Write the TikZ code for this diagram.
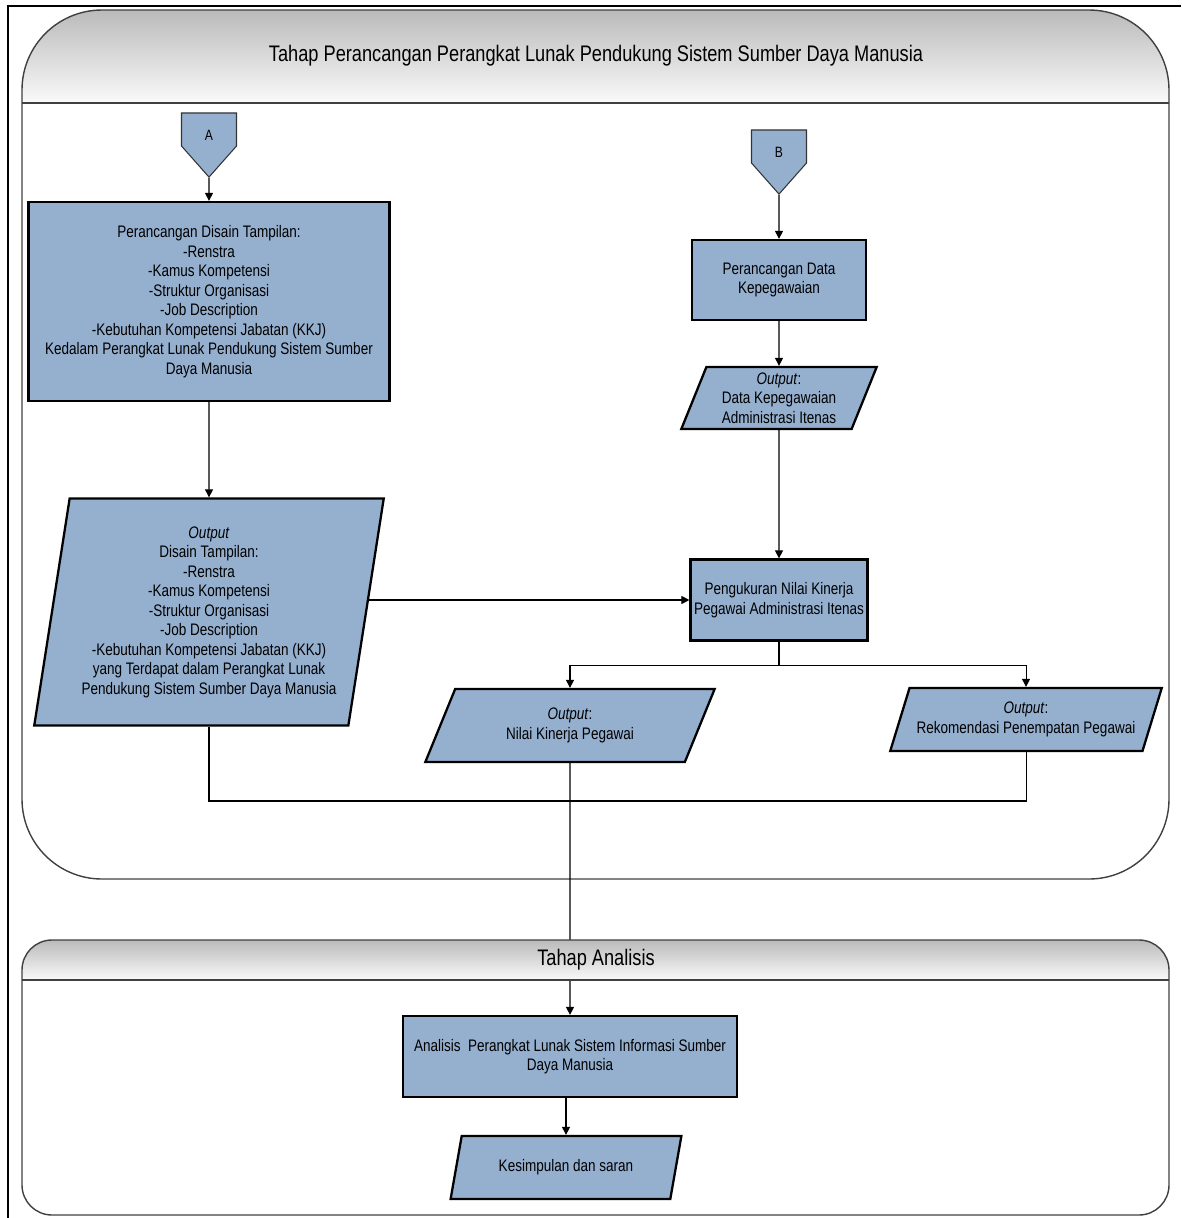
\documentclass[tikz,border=0pt]{standalone}
\usepackage{fontspec}
\setmainfont{Liberation Sans}[FakeStretch=0.81]
\usetikzlibrary{arrows.meta,shapes.geometric,shapes.symbols}
\definecolor{boxblue}{RGB}{149,176,207}
\tikzset{
  proc/.style={draw=black,line width=1.3pt,fill=boxblue,align=center,
               font=\fontsize{9.5}{11.1}\selectfont,inner sep=2pt},
  io/.style={trapezium,trapezium left angle=#1,trapezium right angle={180-#1},
             trapezium stretches=true,draw=black,line width=1.3pt,fill=boxblue,
             align=center,font=\fontsize{9.5}{11.1}\selectfont,inner sep=0pt},
  opc/.style={signal,signal to=south,signal pointer angle=83,draw=black!80,
              line width=.6pt,fill=boxblue,minimum width=1.1cm,inner sep=2pt,
              text height=13.4pt,text depth=1.4pt,
              font=\fontsize{8.5}{10}\selectfont},
  ar/.style ={-{Triangle[length=1.6mm,width=1.6mm]},line width=.6pt},
  ln/.style ={line width=.6pt},
  pool/.style={draw=black!75,line width=.8pt},
  ttl/.style={font=\fontsize{12.8}{14}\selectfont},
}
\begin{document}
\begin{tikzpicture}[x=0.02cm,y=-0.02cm]
  \useasboundingbox (0,0) rectangle (1181,1218);
  \draw[line width=1.4pt] (8,1218) -- (8,6) -- (1181,6);
  % pool 1
  \begin{scope}
    \clip[rounded corners=1.6cm] (22,10) rectangle (1169,879);
    \fill[top color=black!27,bottom color=black!2] (22,10) rectangle (1169,103);
  \end{scope}
  \draw[pool,rounded corners=1.6cm] (22,10) rectangle (1169,879);
  \draw[pool] (22,103) -- (1169,103);
  \node[ttl] (ttlA) at (596,56) {Tahap Perancangan Perangkat Lunak Pendukung Sistem Sumber Daya Manusia};

  \node[opc] (opA) at (209,129.5) {A};
  \node[proc,minimum width=7.22cm,minimum height=3.98cm] (box1) at (209,301.5)
    {Perancangan Disain Tampilan:\\-Renstra\\-Kamus Kompetensi\\-Struktur Organisasi\\
     -Job Description\\-Kebutuhan Kompetensi Jabatan (KKJ)\\
     Kedalam Perangkat Lunak Pendukung Sistem Sumber\\Daya Manusia};
  \node[io=79.3,minimum width=7cm,minimum height=4.54cm] (out1) at (209,612)
    {\textit{Output}\\Disain Tampilan:\\-Renstra\\-Kamus Kompetensi\\-Struktur Organisasi\\
     -Job Description\\-Kebutuhan Kompetensi Jabatan (KKJ)\\
     yang Terdapat dalam Perangkat Lunak\\Pendukung Sistem Sumber Daya Manusia};
  \node[opc] (opB) at (779,146.5) {B};
  \node[proc,minimum width=3.48cm,minimum height=1.6cm] (box2) at (779,280)
    {Perancangan Data\\Kepegawaian};
  \node[io=68.8,minimum width=3.92cm,minimum height=1.24cm] (out2) at (779,398)
    {\textit{Output}:\\Data Kepegawaian\\Administrasi Itenas};
  \node[proc,minimum width=3.52cm,minimum height=1.62cm] (box3) at (779,600)
    {Pengukuran Nilai Kinerja\\Pegawai Administrasi Itenas};
  \node[io=64.4,minimum width=5.8cm,minimum height=1.46cm] (out3) at (570,725.5)
    {\textit{Output}:\\Nilai Kinerja Pegawai};
  \node[io=62.4,minimum width=5.44cm,minimum height=1.26cm] (out4) at (1026,719.5)
    {\textit{Output}:\\Rekomendasi Penempatan Pegawai};
  \node[proc,minimum width=6.68cm,minimum height=1.62cm] (box4) at (570,1056.5)
    {Analisis\ \ Perangkat Lunak Sistem Informasi Sumber\\Daya Manusia};
  \node[io=65.3,minimum width=4.62cm,minimum height=1.26cm] (out5) at (566,1167.5)
    {Kesimpulan dan saran};

  \foreach \a/\b in {opA/box1,box1/out1,opB/box2,box2/out2,out2/box3,out3/box4}
     \draw[ar] (\a)--(\b);
  \draw[ar] (out1.east |- box3.west) -- (box3.west);
  \draw[ln] (box3.south) -- ++(0,24) coordinate (sp);
  \draw[ar] (sp) -| (out3.north);
  \draw[ar] (sp) -| (out4.north);
  \coordinate (mg) at (570,801);
  \draw[ln] (out1.south) |- (mg) -| (out4.south);
  \draw[ar] (box4.south -| out5.north) -- (out5.north);

  % pool 2 (its header hides the line running through it)
  \begin{scope}
    \clip[rounded corners=.6cm] (22,940) rectangle (1169,1215);
    \fill[top color=black!27,bottom color=black!2] (22,940) rectangle (1169,980);
  \end{scope}
  \draw[pool,rounded corners=.6cm] (22,940) rectangle (1169,1215);
  \draw[pool] (22,980) -- (1169,980);
  \node[ttl] (ttlB) at (596,960) {Tahap Analisis};
\end{tikzpicture}
\end{document}
